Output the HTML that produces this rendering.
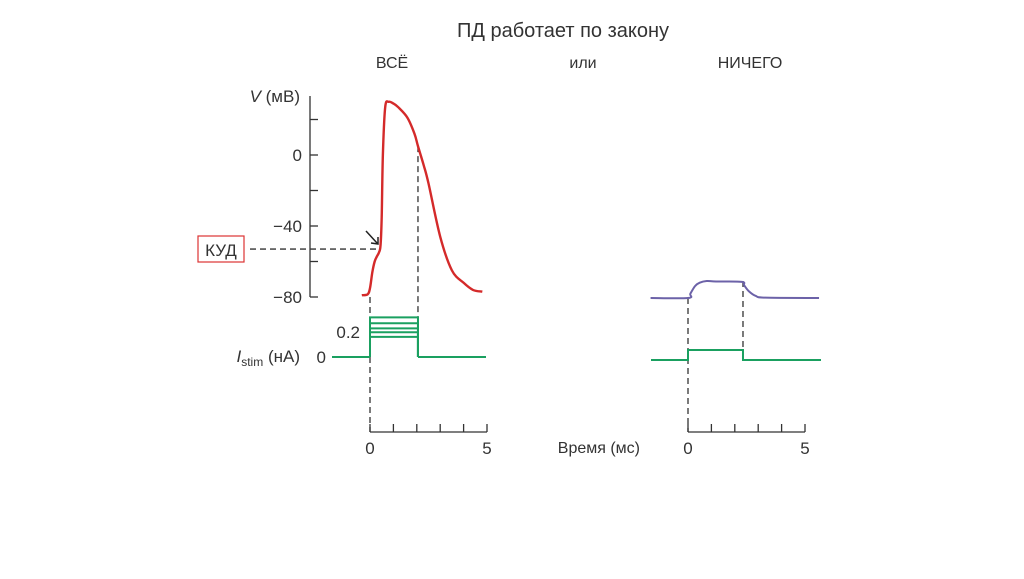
<!DOCTYPE html>
<html><head><meta charset="utf-8"><style>
body{margin:0;background:#fff;width:1024px;height:574px;overflow:hidden;font-family:"Liberation Sans",sans-serif}
svg text{font-family:"Liberation Sans",sans-serif;fill:#333}
</style></head><body>
<svg id="c" width="1024" height="574">
<text x="563" y="37" font-size="20" text-anchor="middle">ПД работает по закону</text>
<text x="392" y="68" font-size="16" text-anchor="middle">ВСЁ</text>
<text x="583" y="68" font-size="16" text-anchor="middle">или</text>
<text x="750" y="68" font-size="16" text-anchor="middle">НИЧЕГО</text>
<text x="300" y="102" font-size="17" text-anchor="end"><tspan font-style="italic">V</tspan> (мВ)</text>
<text x="300" y="362" font-size="17" text-anchor="end"><tspan font-style="italic">I</tspan><tspan font-size="12" dy="4">stim</tspan><tspan dy="-4"> (нА)</tspan></text>
<rect x="198" y="236" width="46" height="26" fill="none" stroke="#d33" stroke-width="1.2"/>
<text x="221" y="256" font-size="17" text-anchor="middle">КУД</text>
<text x="640" y="453" font-size="16" text-anchor="end">Время (мс)</text>
<g id="g"></g>
</svg>
<script>
const vTicks=[-80,-60,-40,-20,0,20];
const vLabels=["−80","","−40","","0",""];
const tTicks=[0,1,2,3,4,5];
const tLabels=["0","","","","","5"];
const apT=[-0.35,-0.1,0.0,0.1,0.2,0.3,0.38,0.45,0.5,0.55,0.65,0.8,1.0,1.2,1.6,1.9,2.05,2.3,2.5,3.0,3.5,4.0,4.4,4.8];
const apV=[-79,-78.5,-75,-66,-60,-57,-55,-51,-35,0,27,30,29,27,21,12,5,-6,-16,-46,-65,-72,-76,-77];
const stimLevels=[0.305,0.26,0.22,0.19,0.155];
const stimOn=[0,2.05];
const subT=[-1.6,0,0.1,0.3,0.5,0.8,1.2,2.3,2.4,2.6,2.9,3.3,5.6];
const subV=[0,0,0.25,0.7,0.9,1.0,0.97,0.95,0.75,0.4,0.12,0.02,0];
const subStim=[0,2.35];
const threshold=-53;
const NS='http://www.w3.org/2000/svg',g=document.getElementById('g');
const yV=v=>155-v*1.775, xL=t=>370+t*23.4, xR=t=>688+t*23.4;
const yI=i=>357-i*130;
function el(tag,a){const e=document.createElementNS(NS,tag);for(const k in a)e.setAttribute(k,a[k]);g.appendChild(e);return e;}
function smooth(pts){let d='M'+pts[0][0]+','+pts[0][1];
for(let i=0;i<pts.length-1;i++){const p0=pts[Math.max(0,i-1)],p1=pts[i],p2=pts[i+1],p3=pts[Math.min(pts.length-1,i+2)];
const c1=[p1[0]+(p2[0]-p0[0])/6,p1[1]+(p2[1]-p0[1])/6],c2=[p2[0]-(p3[0]-p1[0])/6,p2[1]-(p3[1]-p1[1])/6];
d+=`C${c1[0]},${c1[1]} ${c2[0]},${c2[1]} ${p2[0]},${p2[1]}`;}return d;}
let e=el('line',{x1:310,y1:96,x2:310,y2:297,stroke:'#333','stroke-width':1.3});


vTicks.forEach((v,i)=>{let t=el('line',{x1:310,y1:yV(v),x2:318,y2:yV(v),stroke:'#333','stroke-width':1.3});


if(vLabels[i]){let l=el('text',{x:302,y:yV(v)+6,'font-size':17,'text-anchor':'end'});l.textContent=vLabels[i];

}});
[[xL,'left'],[xR,'right']].forEach(([xf,n])=>{
let a=el('line',{x1:xf(0),y1:432,x2:xf(5),y2:432,stroke:'#333','stroke-width':1.3});


tTicks.forEach((t,i)=>{let k=el('line',{x1:xf(t),y1:432,x2:xf(t),y2:424,stroke:'#333','stroke-width':1.3});


if(tLabels[i]){let l=el('text',{x:xf(t),y:454,'font-size':17,'text-anchor':'middle'});l.textContent=tLabels[i];

}});});
const dash={stroke:'#333','stroke-width':1.3,'stroke-dasharray':'6,4',fill:'none'};
function dl(x1,y1,x2,y2,n){let d=el('line',Object.assign({x1,y1,x2,y2},dash));

}
dl(250,yV(threshold),376,yV(threshold),'threshold-line');
dl(xL(0),297,xL(0),432,'stim-onset-line');
dl(xL(stimOn[1]),yV(5),xL(stimOn[1]),357,'stim-offset-line');
dl(xR(0),298,xR(0),432,'sub-onset-line');
dl(xR(subStim[1]),281,xR(subStim[1]),350,'sub-offset-line');
let p=el('path',{d:smooth(apT.map((t,i)=>[xL(t),yV(apV[i])])),stroke:'#d42a2a','stroke-width':2.4,fill:'none','stroke-linejoin':'round'});


let ar=el('path',{d:'M366,231 L377,243 M371,243 L378,244 L378,237',stroke:'#222','stroke-width':1.5,fill:'none'});


const gr='#1aa060';
let s0=el('path',{d:`M332,${yI(0)}H${xL(stimOn[0])}M${xL(stimOn[1])},${yI(0)}H486`,stroke:gr,'stroke-width':2,fill:'none'});


stimLevels.forEach(v=>{let s=el('path',{d:`M${xL(stimOn[0])},${yI(0)}V${yI(v)}H${xL(stimOn[1])}V${yI(0)}`,stroke:gr,'stroke-width':2,fill:'none'});

});
let l2=el('text',{x:360,y:338,'font-size':17,'text-anchor':'end'});l2.textContent='0.2';


let l0=el('text',{x:326,y:363,'font-size':17,'text-anchor':'end'});l0.textContent='0';


let sp=el('path',{d:smooth(subT.map((t,i)=>[xR(t),298-subV[i]*17])),stroke:'#6c62a8','stroke-width':2,fill:'none'});


let ss=el('path',{d:`M651,360H${xR(subStim[0])}V350H${xR(subStim[1])}V360H821`,stroke:gr,'stroke-width':2,fill:'none'});


</script>
</body></html>
